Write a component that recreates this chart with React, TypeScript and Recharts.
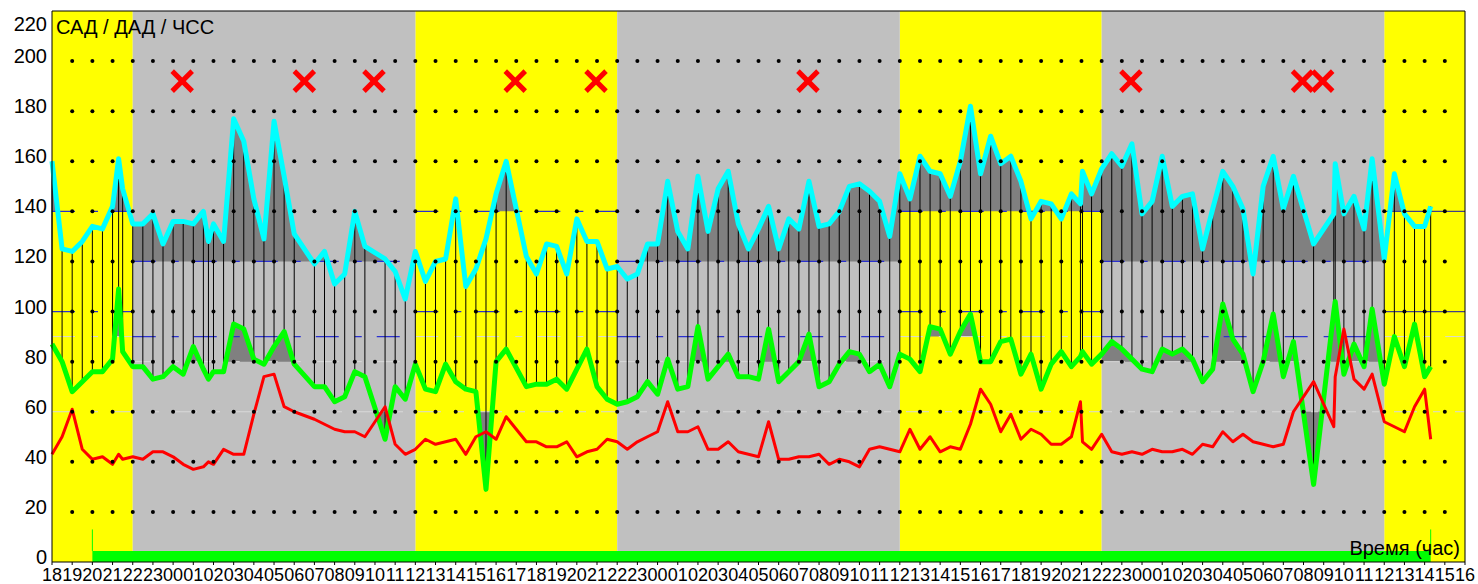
import React from 'react';
import { ComposedChart, Area, Line, XAxis, YAxis } from 'recharts';

// hours since 18:00 of the first day
const times = [
  0, 0.5, 1, 1.5, 2, 2.5, 3, 3.3, 3.5, 4, 4.5, 5, 5.5, 6, 6.5, 7, 7.5, 7.75, 8, 8.5, 9, 9.5, 10, 10.5, 11, 11.5, 12,
  13, 13.5, 14, 14.5, 15, 15.5, 16.5, 17, 17.5,
  18, 18.5, 19, 19.5, 20, 20.5, 21, 21.5, 22, 22.5, 23.5, 24, 24.5, 25, 25.5, 26, 26.5, 27, 27.5, 28, 28.5, 29, 29.5,
  30, 30.5, 31, 31.5, 32, 32.5, 33, 33.5, 34, 34.5,
  35, 35.5, 36, 36.5, 37, 37.5, 38, 38.5, 39, 39.5, 40, 40.5, 41, 41.5, 42, 42.5, 43, 43.5, 44, 44.5, 45, 45.5, 46,
  46.5, 47, 47.5, 48, 48.5, 49, 49.5, 50, 50.5, 50.95, 51.05, 51.5, 52,
  52.5, 53, 53.5, 54, 54.5, 55, 55.5, 56, 56.5, 57, 57.5, 58, 58.5, 59, 59.5, 60, 60.5, 61, 61.5, 62.5, 63.5, 63.57,
  64, 64.5, 65, 65.4, 66, 66.5, 67, 67.5, 68, 68.3,
];

const sbp = [
  160, 125, 124, 128, 134, 133, 142, 161, 149, 135, 135, 139, 127, 136, 136, 135, 140, 128, 135, 128, 177, 168, 145,
  129, 176, 154, 131, 119, 124, 111, 115, 140, 126, 121, 116, 105,
  124, 112, 120, 121, 145, 110, 117, 129, 147, 160, 122, 115, 127, 126, 115, 137, 128, 128, 117, 118, 113, 115, 127,
  127, 152, 132, 125, 154, 132, 149, 156, 135, 125,
  133, 142, 125, 137, 133, 152, 134, 135, 140, 150, 151, 148, 144, 130, 155, 145, 162, 156, 155, 146, 160, 182, 155,
  170, 159, 162, 152, 137, 144, 143, 137, 147, 143, 156, 147, 157,
  163, 158, 167, 139, 144, 162, 142, 146, 147, 125, 141, 156, 150, 141, 115, 150, 162, 141, 154, 127, 139, 159,
  139, 146, 133, 161, 121, 155, 139, 134, 134, 142,
];

const dbp = [
  87, 80, 68, 72, 76, 76, 81, 109, 84, 78, 78, 73, 74, 78, 75, 86, 77, 73, 76, 76, 95, 93, 81, 79, 86, 92, 79, 70, 70,
  64, 66, 76, 74, 49, 70, 65,
  79, 69, 68, 79, 72, 69, 68, 29, 80, 85, 70, 71, 71, 73, 69, 77, 85, 70, 65, 63, 64, 66, 72, 67, 81, 69, 70, 94, 73,
  78, 83, 74, 74,
  73, 93, 72, 76, 80, 91, 70, 72, 79, 84, 83, 76, 79, 70, 83, 81, 76, 94, 93, 83, 92, 99, 80, 80, 88, 89, 75, 83, 69,
  79, 84, 78, 82, 84, 79, 83,
  88, 85, 81, 77, 76, 85, 83, 85, 81, 72, 77, 103, 89, 83, 68, 80, 99, 74, 88, 31, 100, 104, 75, 87, 78, 101, 71,
  90, 78, 95, 74, 78,
];

const hr = [
  43, 50, 61, 45, 41, 42, 39, 43, 41, 42, 41, 44, 44, 42, 39, 37, 38, 40, 39, 45, 43, 43, 59, 74, 75, 62, 60, 57, 55,
  53, 52, 52, 50, 62, 47, 43,
  45, 49, 47, 48, 49, 43, 50, 52, 49, 58, 48, 48, 46, 46, 48, 42, 44, 45, 49, 48, 45, 48, 50, 52, 64, 52, 52, 54, 45,
  45, 48, 44, 43,
  42, 56, 41, 41, 42, 42, 43, 39, 41, 40, 38, 45, 46, 45, 44, 53, 45, 50, 44, 46, 45, 55, 69, 63, 52, 59, 49, 53, 51,
  47, 47, 50, 64, 48, 45, 51,
  44, 43, 44, 43, 45, 44, 44, 45, 43, 47, 46, 52, 48, 51, 48, 47, 46, 47, 60, 72, 54, 74, 93, 73, 69, 75, 56, 54,
  52, 62, 69, 49,
];

// day (yellow) / night (gray) periods
const bandStarts = [0, 4, 18, 28, 42, 52, 66];
const bandEnds = [4, 18, 28, 42, 52, 66, 70];
const bandIsDay = [true, false, true, false, true, false, true];

// limits: [day, night]
const sbpLimit = [140, 120];
const dbpLimit = [90, 80];
const dbpLow = 60;
const normHigh = [140, 120];
const normLow = [100, 90];

// rejected measurements
const failTimes = [6.45, 12.5, 15.95, 22.95, 26.95, 37.45, 53.45, 61.95, 62.95];
const failLevel = 192;

// monitoring period bar at the bottom
const monitorSpan = [2, 68.3];
const monitorBar = 4.4;
const monitorMark = 13;

const hourTicks = Array.from({ length: 71 }, (_, i) => i);
const valueTicks = [0, 20, 40, 60, 80, 100, 120, 140, 160, 180, 200, 220];
const gridHours = Array.from({ length: 69 }, (_, i) => i + 1);
const gridLevels = [20, 40, 60, 80, 100, 120, 140, 160, 180, 200];
const startHour = 18;

const font = "'Liberation Sans', Arial, sans-serif";
const dash = '23 16 7 15';

const bandOf = (t: number) => {
  for (let i = 0; i < bandEnds.length; i++) if (t < bandEnds[i]) return i;
  return bandEnds.length - 1;
};

// area between a limit and the curve where the curve passes it
function limitFill(vals: number[], lims: number[], above: boolean) {
  const out: { t: number; r: number[] }[] = [];
  const add = (t: number, v: number, l: number) =>
    out.push({ t, r: above ? [l, Math.max(v, l)] : [Math.min(v, l), l] });
  for (let i = 0; i < times.length - 1; i++) {
    const t0 = times[i];
    const t1 = times[i + 1];
    const at = (t: number) => vals[i] + ((vals[i + 1] - vals[i]) * (t - t0)) / (t1 - t0);
    const cuts = [t0, ...bandStarts.filter((s) => s > t0 && s < t1), t1];
    for (let k = 0; k < cuts.length - 1; k++) {
      const a = cuts[k];
      const b = cuts[k + 1];
      const l = bandIsDay[bandOf(a)] ? lims[0] : lims[1];
      const va = at(a);
      const vb = at(b);
      add(a, va, l);
      if ((va - l) * (vb - l) < 0) add(a + ((b - a) * (l - va)) / (vb - va), l, l);
      add(b, vb, l);
    }
  }
  return out;
}

function bandLevels(pick: (i: number) => number | null) {
  const out: { t: number; v: number | null }[] = [];
  bandStarts.forEach((s, i) => {
    const v = pick(i);
    if (v == null) return;
    out.push({ t: s, v }, { t: bandEnds[i], v }, { t: bandEnds[i], v: null });
  });
  return out;
}

const dayBands = bandLevels((i) => (bandIsDay[i] ? 220 : null));
const nightBands = bandLevels((i) => (bandIsDay[i] ? null : 220));
const last = bandStarts.length - 1;
const normHighDashed = bandLevels((i) => (i === last ? null : bandIsDay[i] ? normHigh[0] : normHigh[1]));
const normLowDashed = bandLevels((i) => (i === last ? null : bandIsDay[i] ? normLow[0] : normLow[1]));
const normSolid = [
  ...bandLevels((i) => (i === last ? normHigh[0] : null)),
  ...bandLevels((i) => (i === last ? normLow[0] : null)),
];
const dbpLimitLine = bandLevels((i) => (bandIsDay[i] ? dbpLimit[0] : dbpLimit[1]));
const lowLine = [{ t: 0, v: dbpLow }, { t: 70, v: dbpLow }];

const sbpFill = limitFill(sbp, sbpLimit, true);
const dbpFill = limitFill(dbp, dbpLimit, true);
const dbpLowFill = limitFill(dbp, [dbpLow, dbpLow], false);

const sbpData = times.map((t, i) => ({ t, v: sbp[i] }));
const dbpData = times.map((t, i) => ({ t, v: dbp[i] }));
const hrData = times.map((t, i) => ({ t, v: hr[i] }));
const stems = times.flatMap((t, i) => [
  { t, v: sbp[i] },
  { t, v: dbp[i] },
  { t, v: null },
]);
const gridDots = gridLevels.flatMap((v) => gridHours.map((t) => ({ t, v })));
const failData = failTimes.map((t) => ({ t, v: failLevel }));
const monitorData = monitorSpan.map((t) => ({ t, v: monitorBar }));
const monitorMarks = [
  { t: monitorSpan[0], v: monitorBar },
  { t: monitorSpan[0], v: monitorMark },
  { t: monitorSpan[0], v: null },
  { t: monitorSpan[1], v: monitorBar },
  { t: monitorSpan[1], v: monitorMark },
];
const frame = [
  { t: 0, v: 220 },
  { t: 70, v: 220 },
  { t: 70, v: 0 },
];

const HourTick = (p: any) => (
  <text x={p.x} y={581} textAnchor="middle" fontSize={18} fontFamily={font} fill="#000">
    {String((startHour + p.payload.value) % 24).padStart(2, '0')}
  </text>
);

const ValueTick = (p: any) => (
  <text
    x={47}
    y={p.payload.value === 220 ? p.y + 20 : p.y + 2}
    textAnchor="end"
    fontSize={20}
    fontFamily={font}
    fill="#000"
  >
    {p.payload.value}
  </text>
);

const GridDot = (p: any) =>
  p.cx == null || p.cy == null ? (
    <g key={`gd${p.index}`} />
  ) : (
    <circle key={`gd${p.index}`} cx={p.cx} cy={p.cy} r={2} fill="#000" />
  );

const FailMark = (p: any) =>
  p.cx == null || p.cy == null ? (
    <g key={`fm${p.index}`} />
  ) : (
    <g key={`fm${p.index}`} stroke="#ff0000" strokeWidth={5}>
      <line x1={p.cx - 10} y1={p.cy - 10} x2={p.cx + 10} y2={p.cy + 10} />
      <line x1={p.cx - 10} y1={p.cy + 10} x2={p.cx + 10} y2={p.cy - 10} />
    </g>
  );

const flat = { isAnimationActive: false, dot: false, activeDot: false, type: 'linear' as const, dataKey: 'v' };

export default function App() {
  return (
    <div style={{ position: 'absolute', left: 0, top: 0, width: 1478, height: 584, background: '#fff' }}>
      <ComposedChart width={1478} height={584} margin={{ top: 11, right: 13, left: 0, bottom: 0 }}>
        <XAxis
          dataKey="t"
          type="number"
          domain={[0, 70]}
          ticks={hourTicks}
          interval={0}
          height={22}
          tick={<HourTick />}
          tickSize={3}
          tickLine={{ stroke: '#000' }}
          axisLine={{ stroke: '#000' }}
        />
        <YAxis
          type="number"
          domain={[0, 220]}
          ticks={valueTicks}
          interval={0}
          width={52}
          tick={<ValueTick />}
          tickLine={false}
          axisLine={{ stroke: '#000' }}
        />

        {/* day / night background */}
        <Area data={dayBands} dataKey="v" type="linear" fill="#ffff00" fillOpacity={1} stroke="none" isAnimationActive={false} activeDot={false} />
        <Area data={nightBands} dataKey="v" type="linear" fill="#c0c0c0" fillOpacity={1} stroke="none" isAnimationActive={false} activeDot={false} />

        {/* excess over limits */}
        <Area data={sbpFill} dataKey="r" type="linear" fill="#808080" fillOpacity={1} stroke="none" isAnimationActive={false} activeDot={false} />
        <Area data={dbpFill} dataKey="r" type="linear" fill="#808080" fillOpacity={1} stroke="none" isAnimationActive={false} activeDot={false} />
        <Area data={dbpLowFill} dataKey="r" type="linear" fill="#808080" fillOpacity={1} stroke="none" isAnimationActive={false} activeDot={false} />

        <Area data={monitorData} dataKey="v" type="linear" fill="#00ff00" fillOpacity={1} stroke="none" isAnimationActive={false} activeDot={false} />

        {/* limit lines */}
        <Line {...flat} data={lowLine} stroke="#d8d8d8" strokeWidth={1} strokeDasharray={dash} />
        <Line {...flat} data={dbpLimitLine} stroke="#d8d8d8" strokeWidth={1} strokeDasharray={dash} />
        <Line {...flat} data={normHighDashed} stroke="#2a30d0" strokeWidth={1.2} strokeDasharray={dash} />
        <Line {...flat} data={normLowDashed} stroke="#2a30d0" strokeWidth={1.2} strokeDasharray={dash} />
        <Line {...flat} data={normSolid} stroke="#404088" strokeWidth={1.2} />

        {/* dot grid */}
        <Line {...flat} data={gridDots} stroke="none" dot={GridDot} />

        {/* measurement stems */}
        <Line {...flat} data={stems} stroke="#000" strokeWidth={1} />
        <Line {...flat} data={monitorMarks} stroke="#00ff00" strokeWidth={1} />

        <Line {...flat} data={dbpData} stroke="#00ff00" strokeWidth={5} strokeLinejoin="round" />
        <Line {...flat} data={sbpData} stroke="#00ffff" strokeWidth={5} strokeLinejoin="round" />
        <Line {...flat} data={hrData} stroke="#ff0000" strokeWidth={3} strokeLinejoin="round" />

        <Line {...flat} data={failData} stroke="none" dot={FailMark} />
        <Line {...flat} data={frame} stroke="#000" strokeWidth={1} />
      </ComposedChart>
      <svg
        width={1478}
        height={584}
        style={{ position: 'absolute', left: 0, top: 0, pointerEvents: 'none' }}
        fontFamily={font}
      >
        <text x={56} y={34} fontSize={20} fill="#000">
          САД / ДАД / ЧСС
        </text>
        <text x={1460} y={555} fontSize={20} fill="#000" textAnchor="end">
          Время (час)
        </text>
      </svg>
    </div>
  );
}
